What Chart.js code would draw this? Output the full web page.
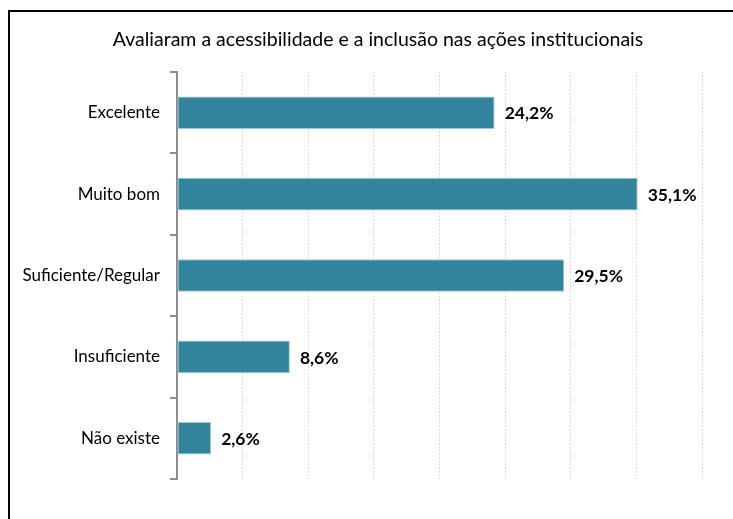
<!DOCTYPE html>
<html>
<head>
<meta charset="utf-8">
<script src="https://cdn.jsdelivr.net/npm/chart.js@4/dist/chart.umd.min.js"></script>
<style>
  html, body { margin: 0; padding: 0; background: #fff; }
  #wrap { width: 733px; height: 519px; }
</style>
</head>
<body>
<div id="wrap"><canvas id="c" width="733" height="519"></canvas></div>
<script>
const categories = ["Excelente", "Muito bom", "Suficiente/Regular", "Insuficiente", "Não existe"];
const values = [24.2, 35.1, 29.5, 8.6, 2.6];
const xTicks = { min: 0, max: 40, step: 5 };
const titleText = "Avaliaram a acessibilidade e a inclusão nas ações institucionais";

const frame = {
  id: 'frame',
  beforeDraw(chart) {
    const ctx = chart.ctx;
    ctx.save();
    ctx.fillStyle = '#fff';
    ctx.fillRect(0, 0, chart.width, chart.height);
    ctx.strokeStyle = '#000';
    ctx.lineWidth = 2;
    ctx.beginPath();
    ctx.moveTo(9, chart.height);
    ctx.lineTo(9, 11);
    ctx.lineTo(chart.width, 11);
    ctx.stroke();
    ctx.restore();
  },
  afterDraw(chart) {
    const ctx = chart.ctx;
    ctx.save();
    ctx.font = '19.5px Lato';
    ctx.fillStyle = '#000';
    ctx.textAlign = 'center';
    ctx.textBaseline = 'middle';
    ctx.fillText(titleText, 378, 40);
    ctx.restore();
  }
};

const valueLabels = {
  id: 'valueLabels',
  afterDatasetsDraw(chart) {
    const ctx = chart.ctx;
    const meta = chart.getDatasetMeta(0);
    ctx.save();
    ctx.font = 'bold 17.5px Lato';
    ctx.fillStyle = '#000';
    ctx.textAlign = 'left';
    ctx.textBaseline = 'middle';
    meta.data.forEach((bar, i) => {
      const v = chart.data.datasets[0].data[i];
      ctx.fillText(v.toFixed(1).replace('.', ',') + '%', bar.x + 10, bar.y + 1);
    });
    ctx.restore();
  }
};

new Chart(document.getElementById('c'), {
  type: 'bar',
  data: {
    labels: categories,
    datasets: [{
      data: values,
      backgroundColor: '#31849B',
      borderColor: '#9CC8D4',
      borderWidth: 1,
      borderSkipped: false,
      barPercentage: 0.4,
      categoryPercentage: 1.0
    }]
  },
  options: {
    indexAxis: 'y',
    responsive: false,
    animation: false,
    layout: { padding: { left: 4, right: 31, top: 72, bottom: 40 } },
    plugins: {
      legend: { display: false },
      tooltip: { enabled: false },
      title: { display: false }
    },
    scales: {
      x: {
        min: xTicks.min,
        max: xTicks.max,
        ticks: { display: false, stepSize: xTicks.step },
        border: { display: false, dash: [1.5, 2] },
        grid: {
          drawTicks: false,
          color: (c) => (c.tick && c.tick.value === 0) ? 'rgba(0,0,0,0)' : '#cfcfcf',
          lineWidth: 1
        },
        afterFit(s) { s.height = 0; }
      },
      y: {
        ticks: {
          color: '#000',
          font: { family: 'Lato', size: 17 },
          padding: 10
        },
        border: { display: true, color: '#8c8c8c', width: 2 },
        grid: {
          drawOnChartArea: false,
          drawTicks: true,
          tickLength: 7,
          color: '#8c8c8c',
          lineWidth: 2,
          offset: true
        },
        afterFit(s) { s.width = 173; }
      }
    }
  },
  plugins: [frame, valueLabels]
});
</script>
</body>
</html>
